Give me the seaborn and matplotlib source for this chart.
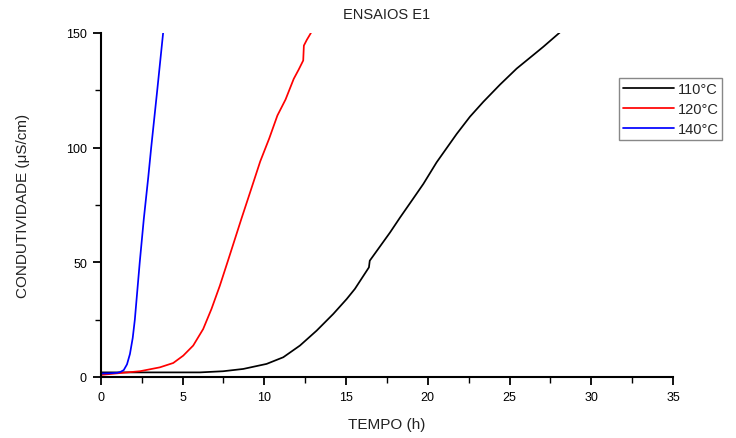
import matplotlib
matplotlib.use("Agg")
import matplotlib.pyplot as plt
import seaborn as sns
import pandas as pd
from matplotlib.ticker import MultipleLocator

# Conductivity curves (μS/cm) against time (h) for each test temperature
t_110 = [0, 2, 4, 6.06, 7.48, 8.71, 10.14, 11.16, 12.18, 13.2, 14.22, 15.04, 15.54,
         16.4, 16.45, 17.69, 18.3, 19.11, 19.73, 20.54, 21.77, 22.58, 23.4, 24.42,
         25.44, 26.66, 27.07, 28.09]
v_110 = [2.0, 2.0, 2.0, 2.0, 2.5, 3.5, 5.7, 8.6, 13.7, 20.2, 27.5, 34.0, 38.4,
         47.8, 50.7, 63.0, 69.5, 77.8, 84.2, 93.6, 106.0, 113.5, 120.0, 127.5,
         134.5, 141.6, 144.0, 150.3]

t_120 = [0, 1.16, 2.39, 3.61, 4.43, 5.04, 5.65, 6.26, 6.77, 7.28, 7.79, 8.24, 8.6,
         9.2, 9.75, 10.3, 10.8, 11.3, 11.8, 12.1, 12.38, 12.42, 12.6, 12.85]
v_120 = [0.9, 1.7, 2.5, 4.2, 6.1, 9.3, 13.7, 20.9, 29.7, 39.8, 51.0, 61.0, 69.0,
         82.0, 94.0, 104.0, 114.0, 121.0, 130.0, 134.0, 138.0, 144.5, 147.0, 150.0]

t_140 = [0, 0.5, 1.0, 1.2, 1.4, 1.6, 1.78, 1.95, 2.08, 2.2, 2.38, 2.63, 2.9, 3.08, 3.45, 3.81]
v_140 = [1.5, 1.6, 1.8, 2.2, 3.0, 5.5, 10.0, 17.0, 25.0, 35.0, 50.0, 69.0, 87.0, 100.0, 125.0, 150.0]

series_labels = ["110°C", "120°C", "140°C"]
series_colors = ["#000000", "#ff0000", "#0000ff"]

frames = []
for label, t, v in zip(series_labels, [t_110, t_120, t_140], [v_110, v_120, v_140]):
    frames.append(pd.DataFrame({"tempo": t, "cond": v, "serie": label}))
df = pd.concat(frames, ignore_index=True)

sns.set_theme(style="ticks")
plt.rcParams["font.family"] = ["Liberation Sans", "DejaVu Sans"]

fig = plt.figure(figsize=(7.36, 4.39), dpi=100)
ax = fig.add_axes([0.137, 0.139, 0.7774, 0.7836])

sns.lineplot(data=df, x="tempo", y="cond", hue="serie", hue_order=series_labels,
             palette=dict(zip(series_labels, series_colors)), sort=False,
             estimator=None, linewidth=1.25, ax=ax)

ax.set_xlim(0, 35)
ax.set_ylim(0, 150)
ax.xaxis.set_major_locator(MultipleLocator(5))
ax.xaxis.set_minor_locator(MultipleLocator(2.5))
ax.yaxis.set_major_locator(MultipleLocator(50))
ax.yaxis.set_minor_locator(MultipleLocator(25))

for side in ["top", "right"]:
    ax.spines[side].set_visible(False)
for side in ["left", "bottom"]:
    ax.spines[side].set_linewidth(1.5)
    ax.spines[side].set_color("black")

ax.tick_params(which="major", direction="out", length=6, width=1.3, labelsize=9,
               colors="black", pad=4)
ax.tick_params(which="minor", direction="out", length=4, width=1.0, colors="black")

ax.set_xlabel("TEMPO (h)", fontsize=11, labelpad=10, color="#222222")
ax.set_ylabel("CONDUTIVIDADE (μS/cm)", fontsize=11, labelpad=26, color="#222222")
ax.set_title("ENSAIOS E1", fontsize=10.5, pad=11, color="#222222")

ax.legend(loc="upper left", bbox_to_anchor=(0.906, 0.868), fontsize=10.5,
          frameon=True, fancybox=False, framealpha=1, edgecolor="#888888",
          handlelength=3.5, handletextpad=0.25, borderpad=0.25, labelspacing=0.42,
          borderaxespad=0)

fig.savefig("out.png", dpi=100)
